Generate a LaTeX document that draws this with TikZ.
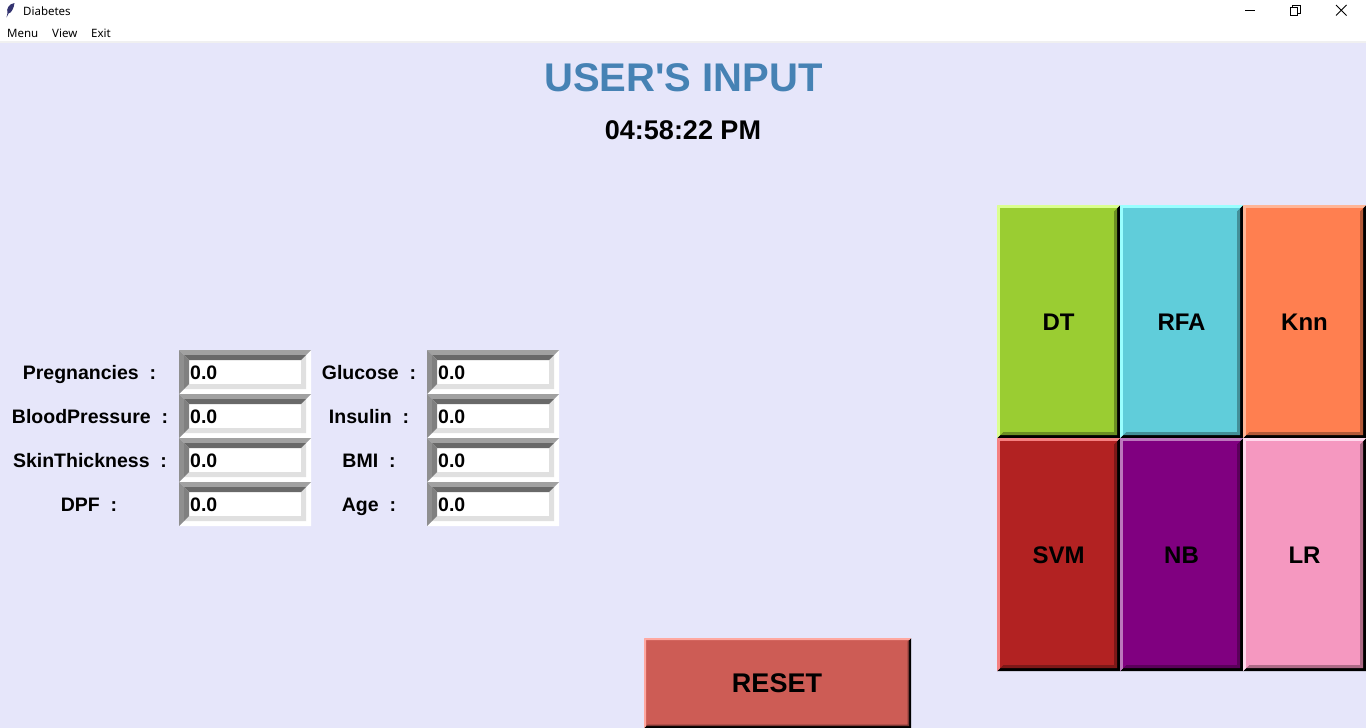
\documentclass[tikz,border=0pt]{standalone}
\usepackage{fontspec}
\setmainfont{Liberation Sans}
\newfontfamily\uifont{Noto Sans}
\definecolor{bgcol}{HTML}{E6E6FA}
\definecolor{titlecol}{HTML}{4682B4}
% mitred ring: x0 y0 x1 y1 width top left low
\newcommand*{\bevelring}[8]{%
	\fill[#8] (#3,#2) -- (#3,#4) -- (#1,#4) -- ({#1+#5},{#4-#5}) -- ({#3-#5},{#4-#5}) -- ({#3-#5},{#2+#5}) -- cycle;
	\fill[#6] (#1,#2) -- (#3,#2) -- ({#3-#5},{#2+#5}) -- ({#1+#5},{#2+#5}) -- cycle;
	\fill[#7] (#1,#2) -- ({#1+#5},{#2+#5}) -- ({#1+#5},{#4-#5}) -- (#1,#4) -- cycle;
}
\tikzset{
	plaintext/.style={inner sep=0pt,anchor=base,font=\bfseries\fontsize{19.5}{20}\selectfont},
	uitext/.style={inner sep=0pt,anchor=base west,font=\uifont\fontsize{11.5}{12}\selectfont},
	btntext/.style={inner sep=0pt,anchor=base,font=\bfseries\fontsize{24}{24}\selectfont},
	wincontrol/.style={draw=black,line width=1pt}
}
\begin{document}
\begin{tikzpicture}[x=1pt,y=-1pt]
	\useasboundingbox (0,0) rectangle (1366,728);
	\fill[bgcol] (0,0) rectangle (1366,728);
	% title bar and menu
	\fill[white] (0,0) rectangle (1366,41);
	\fill[black!6] (0,41) rectangle (1366,43);
	\fill[black!70!blue!80!white] (14.5,3) .. controls (9,3.5) and (6,9) .. (7.5,13) -- (6.5,17.5) -- (8.5,13.5) .. controls (12,13) and (14,7) .. cycle;
	\node[uitext] (apptitle) at (23,16) {Diabetes};
	\node[uitext] (menumain) at (7,37) {Menu};
	\node[uitext] (menuview) at (52,37) {View};
	\node[uitext] (menuexit) at (91,37) {Exit};
	\draw[wincontrol] (1245,10) -- (1255,10);
	\draw[wincontrol] (1292,7) -- (1292,5) -- (1300,5) -- (1300,13) -- (1298,13);
	\draw[wincontrol,fill=white] (1290.5,7.5) rectangle (1297.5,15);
	\draw[wincontrol,line width=0.9pt] (1336,5) -- (1346.5,15.5) (1346.5,5) -- (1336,15.5);
	% heading
	\node[inner sep=0pt,anchor=base,text=titlecol,font=\bfseries\fontsize{40}{40}\selectfont] (heading) at (683.5,91) {USER\textquotesingle S INPUT};
	\node[inner sep=0pt,anchor=base,font=\bfseries\fontsize{27}{27}\selectfont] (clock) at (683,139) {04:58:22 PM};
	% input rows
	\foreach \lblname/\lbl/\X/\Y in {preg/Pregnancies/89.5/350,gluc/Glucose/369/350,
			blood/BloodPressure/90/394,ins/Insulin/369/394,
			skin/SkinThickness/90/438,bmi/BMI/369/438,
			dpf/DPF/89/482,age/Age/369/482}
		{
			\pgfmathsetmacro{\Ex}{\X<200 ? 179 : 427}
			\pgfmathsetmacro{\Ey}{\Y+29}
			\node[plaintext] (\lblname label) at (\X,\Ey) {\lbl\ \ :};
			\fill[white] ({\Ex+5},{\Y+5}) rectangle ({\Ex+127},{\Y+39});
			\bevelring{\Ex}{\Y}{\Ex+132}{\Y+44}{5}{black!37}{black!44}{white}
			\bevelring{\Ex+5}{\Y+5}{\Ex+127}{\Y+39}{5}{black!59}{black!50}{black!12}
			\node[plaintext,anchor=base west] (\lblname entry) at ({\Ex+11},\Ey) {0.0};
		}
	% model buttons
	\foreach \btn/\Bx/\By/\fillc/\lightc/\darkc in {DT/997/205/9ACD32/DBFF8F/6B8F23,RFA/1120/205/60CDDA/99FFFF/438F98,Knn/1243/205/FF7F50/FFB596/B35938,
			SVM/997/438/B22222/F58080/7C1818,NB/1120/438/800080/BC77BC/5A005A,LR/1243/438/F598C0/FFD8EC/AC6A86}
		{
			\definecolor{fillc}{HTML}{\fillc}
			\definecolor{lightc}{HTML}{\lightc}
			\definecolor{darkc}{HTML}{\darkc}
			\fill[fillc] ({\Bx+3},{\By+3}) rectangle ({\Bx+120},{\By+230});
			\bevelring{\Bx}{\By}{\Bx+123}{\By+233}{3}{lightc}{lightc}{black}
			\bevelring{\Bx+3}{\By+3}{\Bx+120}{\By+230}{3}{fillc}{fillc}{darkc}
			\node[btntext] (\btn) at ({\Bx+61.5},{\By+125}) {\btn};
		}
	% reset
	\definecolor{fillc}{HTML}{CD5C55}
	\definecolor{resetlight}{HTML}{FFA8A0}
	\fill[fillc] (646,640) rectangle (909,726);
	\bevelring{644}{638}{911}{728}{2}{resetlight}{resetlight}{black}
	\fill[fillc!60!black] (909,640) -- (909,726) -- (646,726) -- (647.5,724.5) -- (907.5,724.5) -- (907.5,641.5) -- cycle;
	\node[inner sep=0pt,anchor=base,font=\bfseries\fontsize{27}{27}\selectfont] (reset) at (777,692) {RESET};
\end{tikzpicture}
\end{document}
